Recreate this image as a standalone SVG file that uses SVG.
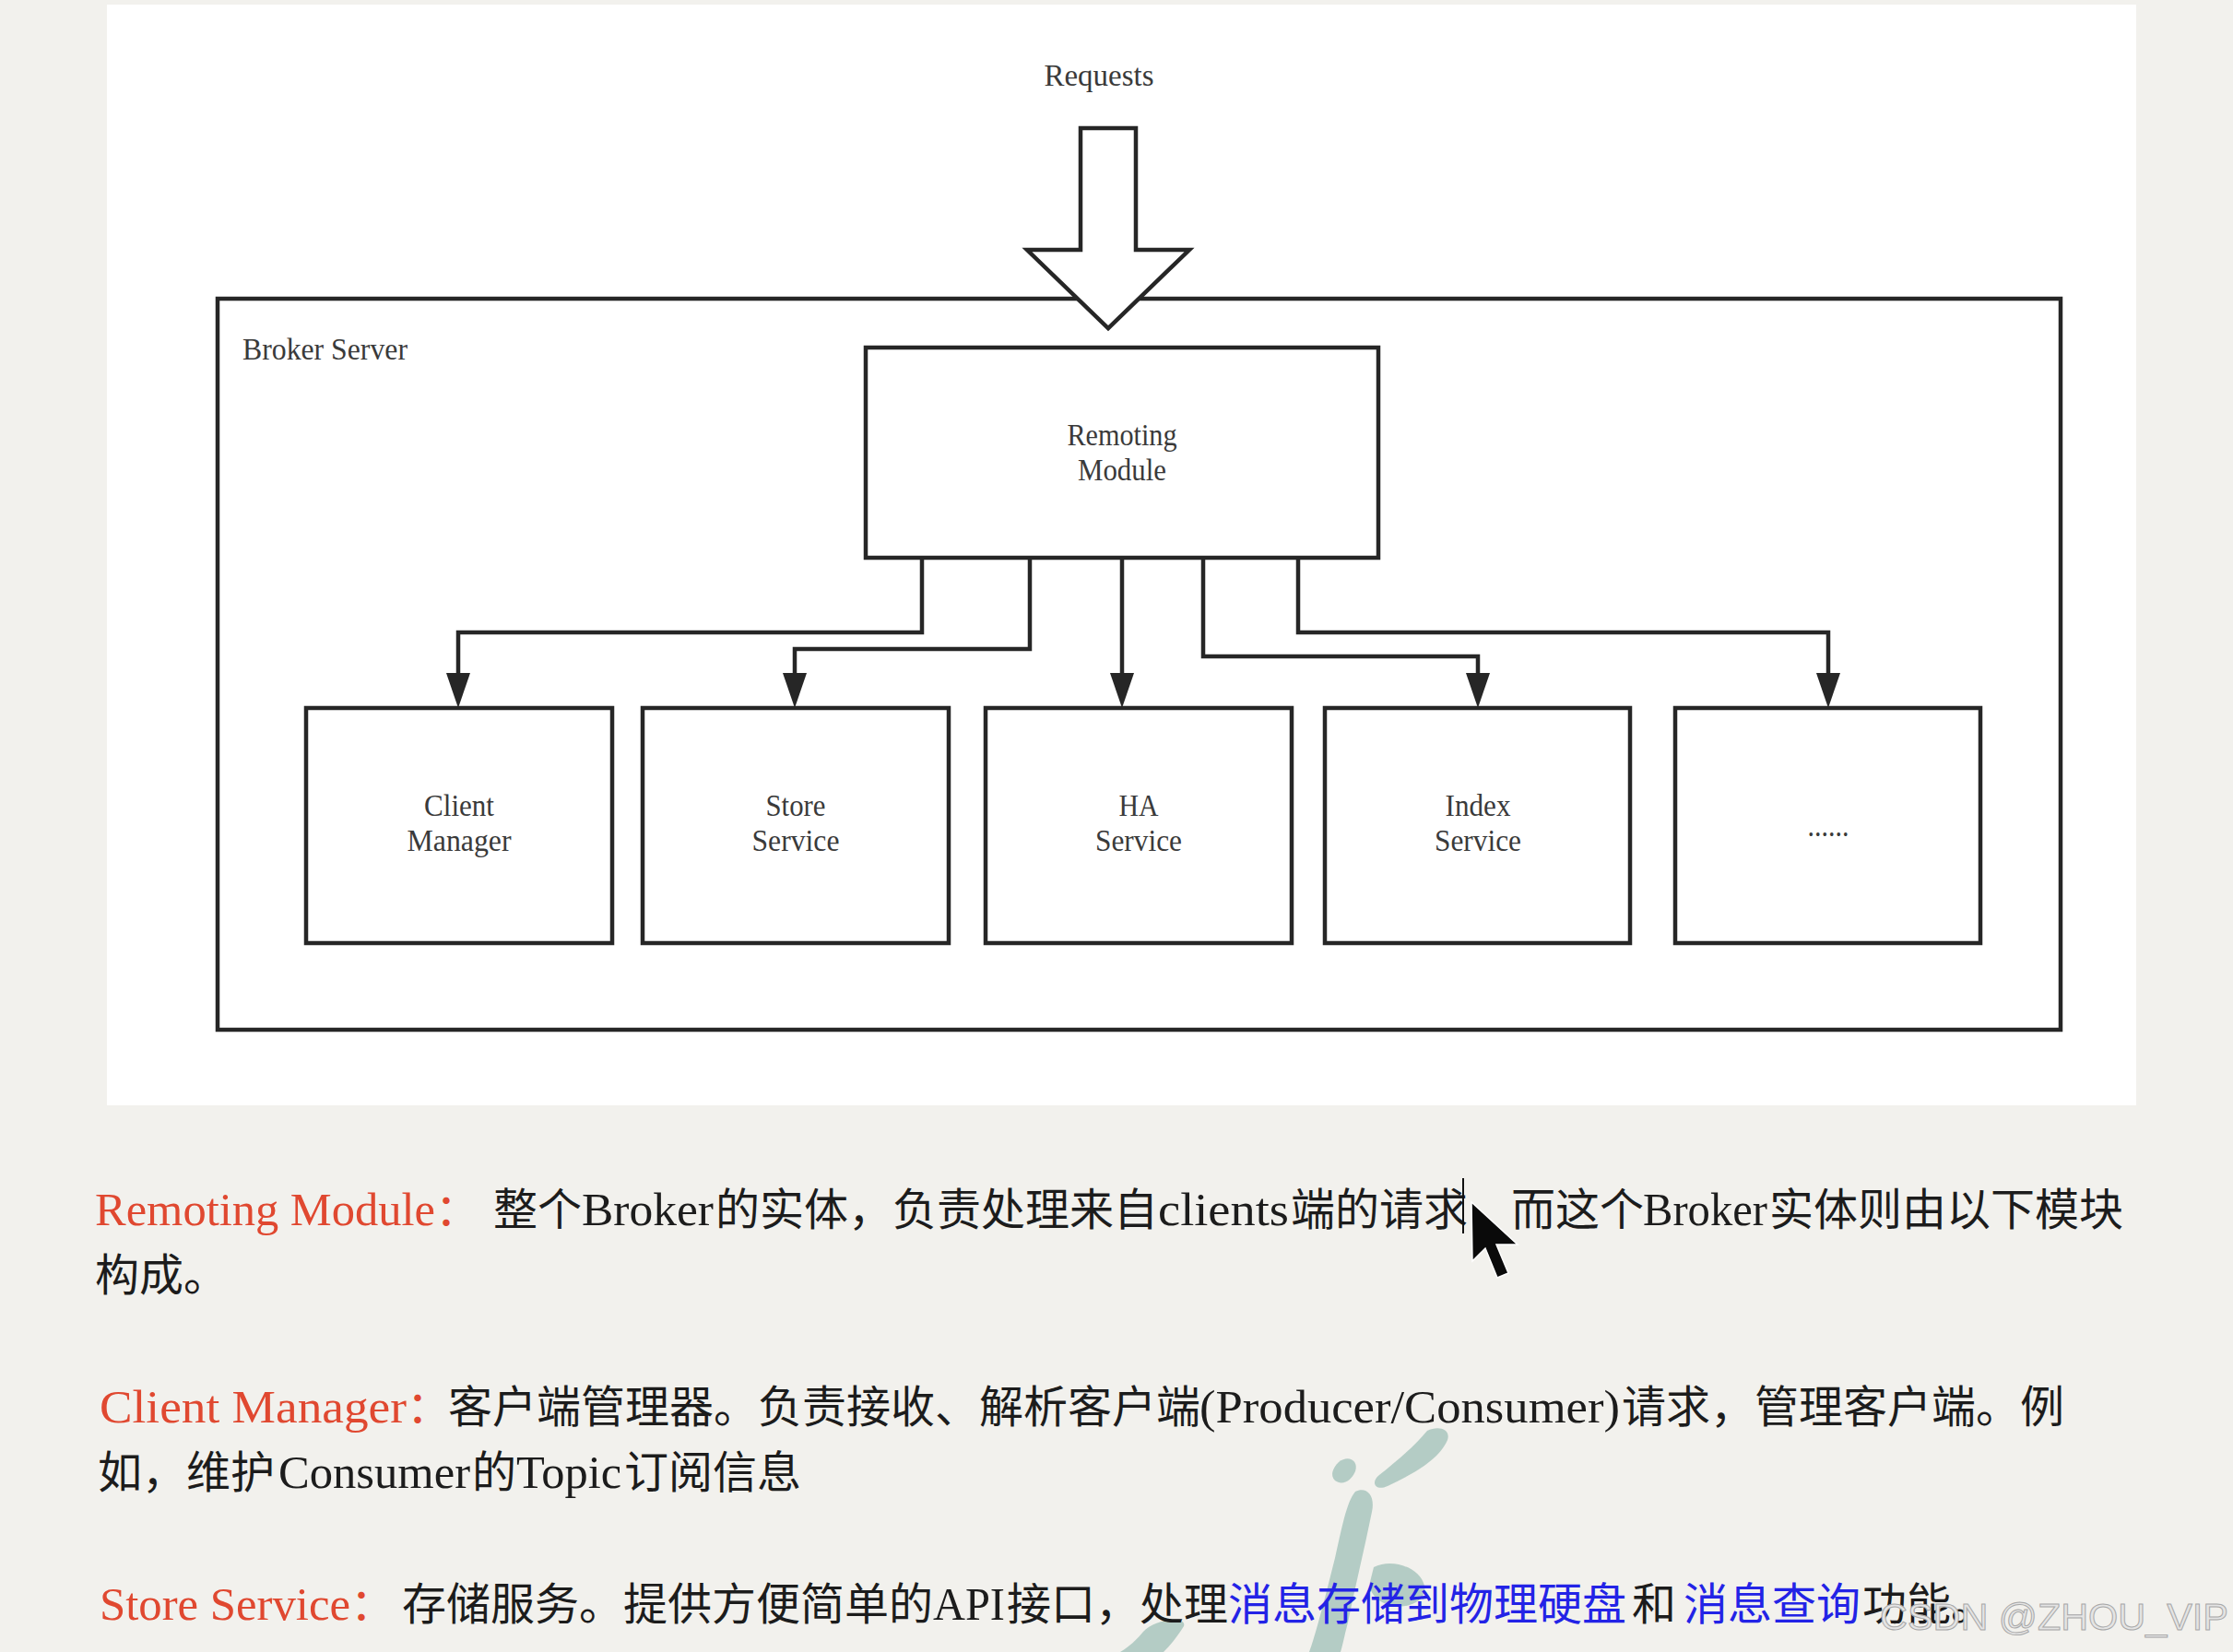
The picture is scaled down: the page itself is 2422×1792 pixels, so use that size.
<svg xmlns="http://www.w3.org/2000/svg" width="2422" height="1792" viewBox="0 0 2422 1792">
<defs>
<style>
.bx{fill:#ffffff;stroke:#262626;stroke-width:4.5}
.cn{fill:none;stroke:#262626;stroke-width:4.5}
.lb{font-family:"Liberation Serif","Times New Roman",serif;font-size:34px;fill:#3a3a3a}
.body{font-family:"Liberation Serif","Noto Sans CJK SC",serif;font-size:48px;fill:#1c1c1c}
.lat{font-family:"Liberation Serif",serif;font-size:51px}
.cjk{font-family:"Noto Sans CJK SC",sans-serif;font-size:48px}
.red{fill:#e04830}
.blue{fill:#2323e6}
.wm{fill:#a9c6bd;opacity:0.85}
</style>
<marker id="ah" viewBox="0 0 38 26" markerWidth="38" markerHeight="26" refX="10" refY="13" orient="auto" markerUnits="userSpaceOnUse">
<path d="M0,0 L38,13 L0,26 z" fill="#262626"/>
</marker>
</defs>
<rect x="0" y="0" width="2422" height="1792" fill="#f2f1ed"/>
<rect x="116" y="5" width="2201" height="1194" fill="#ffffff"/>

<g id="requests">
<text class="lb" x="1192" y="93" text-anchor="middle" textLength="119" lengthAdjust="spacingAndGlyphs">Requests</text>
</g>

<g id="broker-server">
<rect class="bx" x="236" y="324" width="1999" height="793"/>
<text class="lb" x="263" y="390" textLength="179" lengthAdjust="spacingAndGlyphs">Broker Server</text>
</g>

<g id="request-arrow">
<path class="bx" d="M1172,139 L1232,139 L1232,271 L1290,271 L1202,356 L1114,271 L1172,271 z" stroke-linejoin="miter"/>
</g>

<g id="remoting-module">
<rect class="bx" x="939" y="377" width="556" height="228"/>
<text class="lb" x="1217" y="483" text-anchor="middle" textLength="119" lengthAdjust="spacingAndGlyphs">Remoting</text>
<text class="lb" x="1217" y="521" text-anchor="middle" textLength="96" lengthAdjust="spacingAndGlyphs">Module</text>
</g>

<g id="client-manager">
<rect class="bx" x="332" y="768" width="332" height="255"/>
<text class="lb" x="498" y="885" text-anchor="middle" textLength="76" lengthAdjust="spacingAndGlyphs">Client</text>
<text class="lb" x="498" y="923" text-anchor="middle" textLength="113" lengthAdjust="spacingAndGlyphs">Manager</text>
</g>

<g id="store-service">
<rect class="bx" x="697" y="768" width="332" height="255"/>
<text class="lb" x="863" y="885" text-anchor="middle" textLength="65" lengthAdjust="spacingAndGlyphs">Store</text>
<text class="lb" x="863" y="923" text-anchor="middle" textLength="95" lengthAdjust="spacingAndGlyphs">Service</text>
</g>

<g id="ha-service">
<rect class="bx" x="1069" y="768" width="332" height="255"/>
<text class="lb" x="1235" y="885" text-anchor="middle" textLength="43" lengthAdjust="spacingAndGlyphs">HA</text>
<text class="lb" x="1235" y="923" text-anchor="middle" textLength="94" lengthAdjust="spacingAndGlyphs">Service</text>
</g>

<g id="index-service">
<rect class="bx" x="1437" y="768" width="331" height="255"/>
<text class="lb" x="1603" y="885" text-anchor="middle" textLength="71" lengthAdjust="spacingAndGlyphs">Index</text>
<text class="lb" x="1603" y="923" text-anchor="middle" textLength="94" lengthAdjust="spacingAndGlyphs">Service</text>
</g>

<g id="more">
<rect class="bx" x="1817" y="768" width="331" height="255"/>
<text class="lb" x="1983" y="907" text-anchor="middle" font-size="26" textLength="45" lengthAdjust="spacingAndGlyphs">......</text>
</g>

<g id="connectors">
<polyline class="cn" points="1000,605 1000,686 497,686 497,740" marker-end="url(#ah)"/>
<polyline class="cn" points="1117,605 1117,704 862,704 862,740" marker-end="url(#ah)"/>
<polyline class="cn" points="1217,605 1217,740" marker-end="url(#ah)"/>
<polyline class="cn" points="1305,605 1305,712 1603,712 1603,740" marker-end="url(#ah)"/>
<polyline class="cn" points="1408,605 1408,686 1983,686 1983,740" marker-end="url(#ah)"/>
</g>

<g id="watermark-brush">
<path class="wm" d="M1548,1552 C1560,1546 1574,1550 1570,1562 C1560,1585 1530,1600 1505,1612 C1492,1618 1486,1608 1496,1600 C1515,1585 1535,1568 1548,1552 z"/>
<path class="wm" d="M1452,1586 C1462,1578 1474,1584 1470,1596 C1466,1606 1456,1612 1448,1606 C1442,1600 1446,1592 1452,1586 z"/>
<path class="wm" d="M1470,1618 C1482,1612 1492,1622 1488,1640 C1480,1680 1470,1720 1462,1760 C1458,1775 1456,1786 1454,1792 L1420,1792 C1428,1770 1438,1730 1448,1690 C1455,1660 1460,1630 1470,1618 z"/>
<path class="wm" d="M1490,1700 C1510,1690 1540,1700 1545,1720 C1548,1735 1530,1745 1512,1742 C1498,1740 1484,1730 1486,1716 z"/>
<path class="wm" d="M1240,1770 C1232,1780 1222,1788 1215,1792 L1262,1792 C1270,1784 1278,1774 1284,1764 C1288,1752 1252,1756 1240,1770 z"/>
</g>

<g id="description">
<text class="body" y="1329"><tspan class="lat red" x="103" textLength="369" lengthAdjust="spacingAndGlyphs">Remoting Module</tspan><tspan class="cjk red">：</tspan><tspan class="cjk" x="535">整个</tspan><tspan class="lat" x="631" textLength="143" lengthAdjust="spacingAndGlyphs">Broker</tspan><tspan class="cjk" x="776">的实体，负责处理来自</tspan><tspan class="lat" x="1256" textLength="142" lengthAdjust="spacingAndGlyphs">clients</tspan><tspan class="cjk" x="1400">端的请求，</tspan><tspan class="cjk" x="1639">而这个</tspan><tspan class="lat" x="1782" textLength="135" lengthAdjust="spacingAndGlyphs">Broker</tspan><tspan class="cjk" x="1919">实体则由以下模块</tspan></text>
<text class="body" y="1400"><tspan class="cjk" x="103">构成。</tspan></text>
<text class="body" y="1543"><tspan class="lat red" x="108" textLength="333" lengthAdjust="spacingAndGlyphs">Client Manager</tspan><tspan class="cjk red">：</tspan><tspan class="cjk" x="486">客户端管理器。负责接收、解析客户端</tspan><tspan class="lat" x="1301" textLength="456" lengthAdjust="spacingAndGlyphs">(Producer/Consumer)</tspan><tspan class="cjk" x="1759">请求，管理客户端。例</tspan></text>
<text class="body" y="1614"><tspan class="cjk" x="106">如，维护</tspan><tspan class="lat" x="302" textLength="208" lengthAdjust="spacingAndGlyphs">Consumer</tspan><tspan class="cjk" x="512">的</tspan><tspan class="lat" x="560" textLength="114" lengthAdjust="spacingAndGlyphs">Topic</tspan><tspan class="cjk" x="677">订阅信息</tspan></text>
<text class="body" y="1757"><tspan class="lat red" x="108" textLength="272" lengthAdjust="spacingAndGlyphs">Store Service</tspan><tspan class="cjk red">：</tspan><tspan class="cjk" x="436">存储服务。提供方便简单的</tspan><tspan class="lat" x="1012" textLength="78" lengthAdjust="spacingAndGlyphs">API</tspan><tspan class="cjk" x="1092">接口，处理</tspan><tspan class="cjk blue" x="1332">消息存储到物理硬盘</tspan><tspan class="cjk" x="1770">和</tspan><tspan class="cjk blue" x="1826">消息查询</tspan><tspan class="cjk" x="2020">功能。</tspan></text>
</g>

<g id="caret-cursor">
<line x1="1587" y1="1278" x2="1587" y2="1338" stroke="#111" stroke-width="2"/>
<path d="M1596,1304 L1597,1368 L1611,1354 L1624,1386 L1636,1381 L1623,1350 L1646,1350 z" fill="#0a0a0a" stroke="#ffffff" stroke-width="1.5"/>
</g>

<g id="csdn-watermark">
<text x="2039" y="1768" font-family="Liberation Sans, Arial, sans-serif" font-size="41" fill="#e4e4e4" stroke="#a8a8a8" stroke-width="1" textLength="378" lengthAdjust="spacingAndGlyphs">CSDN @ZHOU_VIP</text>
</g>
</svg>
